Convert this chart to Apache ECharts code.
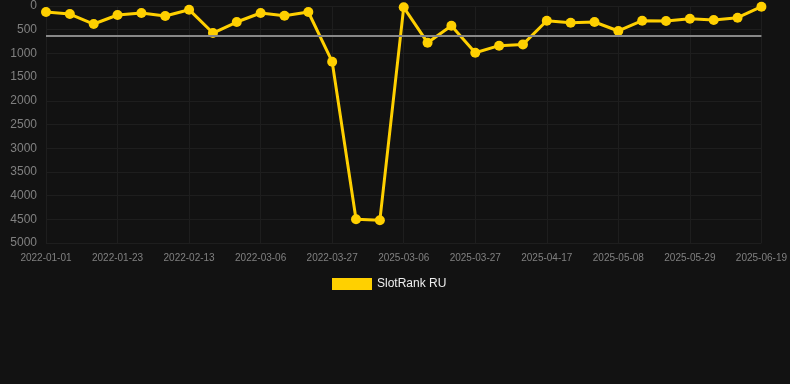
<!DOCTYPE html>
<html><head><meta charset="utf-8">
<script src="https://cdn.jsdelivr.net/npm/echarts@6/dist/echarts.min.js"></script>
<style>html,body{margin:0;padding:0;background:#121212;}#c{width:790px;height:384px;}</style>
</head><body><div id="c"></div>
<script>
var categories = [
 '2022-01-01','2022-01-09','2022-01-16','2022-01-23','2022-01-30','2022-02-06','2022-02-13',
 '2022-02-20','2022-02-27','2022-03-06','2022-03-13','2022-03-20','2022-03-27','2022-04-03','2022-04-10',
 '2025-03-06','2025-03-13','2025-03-20','2025-03-27','2025-04-03','2025-04-10','2025-04-17',
 '2025-04-24','2025-05-01','2025-05-08','2025-05-15','2025-05-22','2025-05-29','2025-06-05','2025-06-12','2025-06-19'
];
var rankRU = [127,169,380,190,148,211,78,570,338,148,204,127,1175,4500,4521,
 28,774,415,985,837,810,310,352,338,527,310,316,268,295,247,14];
var seriesName = 'SlotRank RU';

var chart = echarts.init(document.getElementById('c'), null, {renderer:'canvas'});
chart.setOption({
  backgroundColor:'#121212',
  animation:false,
  grid:{left:46,right:28,top:6,bottom:141},
  legend:{top:273,left:327,itemWidth:40,itemHeight:12,itemGap:10,
    textStyle:{color:'#eeeeee',fontSize:12,fontFamily:'Arial, Liberation Sans, sans-serif'},
    data:[{name:seriesName,icon:'rect'}]},
  xAxis:{type:'category',data:categories,boundaryGap:false,
    axisLine:{show:false},axisTick:{show:false},
    axisLabel:{interval:2,color:'#808080',fontSize:10,margin:10,fontFamily:'Arial, Liberation Sans, sans-serif'},
    splitLine:{show:true,interval:2,lineStyle:{color:'#1e1e1e',width:1}}},
  yAxis:{type:'value',inverse:true,min:0,max:5000,interval:500,
    axisLine:{show:false},axisTick:{show:false},
    axisLabel:{color:'#808080',fontSize:12,margin:9,formatter:function(v){return String(v);},
      fontFamily:'Arial, Liberation Sans, sans-serif'},
    splitLine:{lineStyle:{color:'#1e1e1e',width:1}}},
  series:[{name:seriesName,type:'line',data:rankRU,
    symbol:'circle',symbolSize:10,
    lineStyle:{color:'#FFD000',width:3},
    itemStyle:{color:'#FFD000'},
    markLine:{silent:true,symbol:'none',label:{show:false},
      lineStyle:{color:'#888888',type:'solid',width:2},
      data:[{type:'average'}]}
  }]
});
</script></body></html>
